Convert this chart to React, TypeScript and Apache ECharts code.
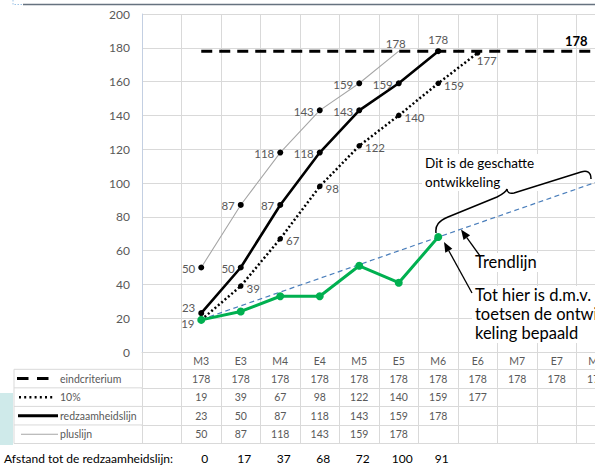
import React, { useEffect, useRef } from "react";
import * as echarts from "echarts";

// ---------- data ----------
const categories = ["", "M3", "E3", "M4", "E4", "M5", "E5", "M6", "E6", "M7", "E7", "M8"];
const eindcriterium = [null, 178, 178, 178, 178, 178, 178, 178, 178, 178, 178, 178];
const tienProcent = [null, 19, 39, 67, 98, 122, 140, 159, 177, null, null, null];
const redzaamheidslijn = [null, 23, 50, 87, 118, 143, 159, 178, null, null, null, null];
const pluslijn = [null, 50, 87, 118, 143, 159, 178, null, null, null, null, null];
const gemeten = [null, 19, 24, 33, 33, 51, 41, 68, null, null, null, null];
const trendlijn = [null, 19.2, null, null, null, null, null, null, null, null, null, 100.5];
const afstand = [null, 0, 17, 37, 68, 72, 100, 91, null, null, null, null];
const yMin = 0;
const yMax = 200;
const yStep = 20;

const rowNames = ["eindcriterium", "10%", "redzaamheidslijn", "pluslijn"];
const rowValues = [eindcriterium, tienProcent, redzaamheidslijn, pluslijn];

// ---------- layout ----------
const FONT = "Lato, 'Open Sans', sans-serif";
const GRAY = "#595959";
const GRID = "#d9d9d9";
const GRID_LEFT = 142;
const GRID_TOP = 14;
const CAT_W = 39.5;
const GRID_H = 338;
const CHART_W = 640;
const CHART_H = 469;
const HEADER_H = 17.3;
const ROW_H = 18.55;
const ZA = 100;

const fmt = (v: number | null) => (v == null ? "" : String(v));

function arrow(x1: number, y1: number, x2: number, y2: number) {
  const dx = x2 - x1;
  const dy = y2 - y1;
  const len = Math.sqrt(dx * dx + dy * dy);
  const ux = dx / len;
  const uy = dy / len;
  const hl = 10;
  const hw = 4;
  const bx = x2 - ux * hl;
  const by = y2 - uy * hl;
  const px = -uy * hw;
  const py = ux * hw;
  return [
    {
      type: "line",
      silent: true,
      z: ZA + 2,
      shape: { x1, y1, x2: bx, y2: by },
      style: { stroke: "#000", lineWidth: 1.3 },
    },
    {
      type: "polygon",
      silent: true,
      z: ZA + 2,
      shape: {
        points: [
          [x2, y2],
          [bx + px, by + py],
          [bx - px, by - py],
        ],
      },
      style: { fill: "#000" },
    },
  ];
}

function whiteBox(x: number, y: number, w: number, h: number) {
  return {
    type: "rect",
    silent: true,
    z: ZA,
    shape: { x, y, width: w, height: h },
    style: { fill: "#fff" },
  };
}

const BRACE_D =
  "M436,233 C435,225 439,221 448,217 L497,197 C503,194 506,192 507,189 C507,192 509,194 514,193 L581,172 C587,170 591,172 591,179";

let braceRegistered = false;

export default function App() {
  const ref = useRef<HTMLDivElement>(null);

  useEffect(() => {
    if (!ref.current) return;
    if (!braceRegistered) {
      echarts.graphic.registerShape("brace", echarts.graphic.extendPath(BRACE_D, {}));
      braceRegistered = true;
    }
    const chart = echarts.init(ref.current, undefined, { renderer: "svg" });

    const rowOffsets = rowValues.map((_, i) => HEADER_H + i * ROW_H);
    const bottomOffset = HEADER_H + rowValues.length * ROW_H;

    const tableAxes = rowValues.map((vals, i) => ({
      type: "category",
      gridIndex: 0,
      position: "bottom",
      offset: rowOffsets[i],
      data: categories,
      boundaryGap: true,
      axisLine: { show: true, lineStyle: { color: GRID, width: 1 } },
      axisTick: { show: true, interval: 0, length: ROW_H, lineStyle: { color: GRID } },
      axisLabel: {
        show: true,
        interval: 0,
        margin: ROW_H / 2,
        verticalAlign: "middle",
        color: GRAY,
        fontSize: 10.5,
        fontFamily: FONT,
        formatter: (_v: string, idx: number) => fmt(vals[idx] as number | null),
      },
      splitLine: { show: false },
    }));

    const labelBase = {
      show: true,
      color: GRAY,
      fontSize: 11.5,
      fontFamily: FONT,
      distance: 3,
    };

    const legendLines: any[] = [];
    const legendYs = [0, 1, 2, 3, 4].map((i) => 352 + HEADER_H + i * ROW_H);
    legendYs.forEach((y) =>
      legendLines.push({
        type: "line",
        silent: true,
        shape: { x1: 14, y1: y, x2: GRID_LEFT, y2: y },
        style: { stroke: GRID, lineWidth: 1 },
      })
    );
    legendLines.push({
      type: "line",
      silent: true,
      shape: { x1: 14, y1: legendYs[0], x2: 14, y2: legendYs[4] },
      style: { stroke: GRID, lineWidth: 1 },
    });
    const rowMid = (i: number) => legendYs[i] + ROW_H / 2;
    const keys: any[] = [
      {
        type: "line",
        silent: true,
        shape: { x1: 17, y1: rowMid(0), x2: 49, y2: rowMid(0) },
        style: { stroke: "#000", lineWidth: 3, lineDash: [11.5, 8.5] },
      },
      {
        type: "line",
        silent: true,
        shape: { x1: 19, y1: rowMid(1), x2: 55, y2: rowMid(1) },
        style: { stroke: "#000", lineWidth: 2.5, lineDash: [2, 3.2] },
      },
      {
        type: "line",
        silent: true,
        shape: { x1: 18, y1: rowMid(2), x2: 58, y2: rowMid(2) },
        style: { stroke: "#000", lineWidth: 3 },
      },
      {
        type: "line",
        silent: true,
        shape: { x1: 21, y1: rowMid(3), x2: 58, y2: rowMid(3) },
        style: { stroke: "#a6a6a6", lineWidth: 1.2 },
      },
    ];
    const keyTexts = rowNames.map((name, i) => ({
      type: "text",
      silent: true,
      x: 60,
      y: rowMid(i),
      style: {
        text: name,
        fill: GRAY,
        font: `10.5px ${FONT}`,
        verticalAlign: "middle",
        align: "left",
      },
    }));

    const option: any = {
      animation: false,
      textStyle: { fontFamily: FONT },
      grid: {
        left: GRID_LEFT,
        top: GRID_TOP,
        width: CAT_W * categories.length,
        height: GRID_H,
        containLabel: false,
      },
      xAxis: [
        {
          type: "category",
          gridIndex: 0,
          position: "bottom",
          data: categories,
          boundaryGap: true,
          axisLine: { show: true, lineStyle: { color: GRID } },
          axisTick: { show: true, interval: 0, length: HEADER_H, lineStyle: { color: GRID } },
          axisLabel: {
            show: true,
            interval: 0,
            margin: 8.7,
            verticalAlign: "middle",
            color: GRAY,
            fontSize: 10.5,
            fontFamily: FONT,
          },
          splitLine: { show: true, interval: 0, lineStyle: { color: GRID } },
        },
        ...tableAxes,
        {
          type: "category",
          gridIndex: 0,
          position: "bottom",
          offset: bottomOffset,
          data: categories,
          axisLine: { show: true, lineStyle: { color: GRID } },
          axisTick: { show: false },
          axisLabel: { show: false },
          splitLine: { show: false },
        },
        {
          type: "category",
          gridIndex: 0,
          position: "bottom",
          offset: 100,
          data: categories,
          axisLine: { show: false },
          axisTick: { show: false },
          axisLabel: {
            show: true,
            interval: 0,
            margin: 6,
            verticalAlign: "middle",
            color: "#000",
            fontSize: 12,
            fontFamily: FONT,
            padding: [0, 0, 0, 7],
            formatter: (_v: string, idx: number) => fmt(afstand[idx] as number | null),
          },
          splitLine: { show: false },
        },
      ],
      yAxis: {
        type: "value",
        min: yMin,
        max: yMax,
        interval: yStep,
        axisLine: { show: true, lineStyle: { color: "#c3cfe2" } },
        axisTick: { show: false },
        axisLabel: { color: GRAY, fontSize: 12, fontFamily: FONT, margin: 12 },
        splitLine: { show: true, lineStyle: { color: GRID } },
      },
      series: [
        {
          name: "trendlijn",
          type: "line",
          data: trendlijn,
          connectNulls: true,
          symbol: "none",
          lineStyle: { color: "#4a7ebb", width: 1.2, type: [5, 3.5] },
          z: 2,
        },
        {
          name: "pluslijn",
          type: "line",
          data: pluslijn.map((v, i) =>
            v == null
              ? null
              : i === 6
              ? { value: v, symbolSize: 0, label: { position: "top", offset: [-3, 1] } }
              : { value: v }
          ),
          symbol: "circle",
          symbolSize: 6,
          itemStyle: { color: "#000" },
          lineStyle: { color: "#a6a6a6", width: 1.1 },
          label: { ...labelBase, position: "left", offset: [0, 1] },
          z: 3,
        },
        {
          name: "10%",
          type: "line",
          data: tienProcent.map((v, i) =>
            v == null
              ? null
              : i === 1
              ? { value: v, label: { position: "left", offset: [-1, 4] } }
              : i === 8
              ? { value: v, label: { position: "bottom", offset: [9, -4] } }
              : { value: v }
          ),
          symbol: "circle",
          symbolSize: 5.5,
          itemStyle: { color: "#000" },
          lineStyle: { color: "#000", width: 2.5, type: [2, 2.4] },
          label: { ...labelBase, position: "right", offset: [0, 2] },
          z: 4,
        },
        {
          name: "redzaamheidslijn",
          type: "line",
          data: redzaamheidslijn.map((v, i) =>
            v == null
              ? null
              : i === 1
              ? { value: v, label: { position: "left", offset: [0, -6] } }
              : i === 7
              ? { value: v, label: { position: "top", offset: [0, 0] } }
              : { value: v }
          ),
          symbol: "circle",
          symbolSize: 6,
          itemStyle: { color: "#000" },
          lineStyle: { color: "#000", width: 2.6 },
          label: { ...labelBase, position: "left", offset: [0, 1] },
          z: 5,
        },
        {
          name: "eindcriterium",
          type: "line",
          data: eindcriterium.map((v, i) =>
            v == null
              ? null
              : i === categories.length - 1
              ? {
                  value: v,
                  label: {
                    show: true,
                    position: "top",
                    offset: [-20, 1],
                    color: "#000",
                    fontWeight: "bold",
                    fontSize: 13,
                    fontFamily: FONT,
                  },
                }
              : { value: v }
          ),
          symbol: "circle",
          symbolSize: 0,
          lineStyle: { color: "#000", width: 3, type: [11, 7] },
          label: { show: false },
          z: 4,
        },
        {
          name: "gemeten",
          type: "line",
          data: gemeten,
          symbol: "circle",
          symbolSize: 8,
          itemStyle: { color: "#00b050" },
          lineStyle: { color: "#00b050", width: 3 },
          z: 6,
        },
      ],
      graphic: [
        {
          type: "rect",
          silent: true,
          shape: { x: 0, y: 393, width: 13, height: 52 },
          style: { fill: "#cfeaea" },
        },
        {
          type: "line",
          silent: true,
          shape: { x1: 23, y1: 4.5, x2: 595, y2: 4.5 },
          style: { stroke: "#66727f", lineWidth: 1.5 },
        },
        {
          type: "polyline",
          silent: true,
          shape: { points: [[13, 0], [13, 4.5], [23, 4.5]] },
          style: { stroke: "#9dc3e6", lineWidth: 1, lineDash: [1.5, 1.5], fill: null },
        },
        ...legendLines,
        ...keys,
        ...keyTexts,
        {
          type: "text",
          silent: true,
          x: 4,
          y: 458,
          style: {
            text: "Afstand tot de redzaamheidslijn:",
            fill: "#000",
            font: `12px ${FONT}`,
            verticalAlign: "middle",
            align: "left",
          },
        },
        whiteBox(422, 154, 122, 37),
        {
          type: "text",
          silent: true,
          z: ZA + 1,
          x: 425,
          y: 154,
          style: {
            text: "Dit is de geschatte\nontwikkeling",
            fill: "#000",
            font: `13.5px ${FONT}`,
            lineHeight: 18.7,
            verticalAlign: "top",
            align: "left",
          },
        },
        {
          type: "brace",
          silent: true,
          z: ZA + 2,
          x: 0,
          y: 0,
          shape: {},
          style: { fill: "none", stroke: "#000", lineWidth: 1.5 },
        },
        whiteBox(472, 253, 72, 19),
        {
          type: "text",
          silent: true,
          z: ZA + 1,
          x: 475,
          y: 262,
          style: {
            text: "Trendlijn",
            fill: "#000",
            font: `16.5px ${FONT}`,
            verticalAlign: "middle",
            align: "left",
          },
        },
        whiteBox(472, 286, 130, 57),
        {
          type: "text",
          silent: true,
          z: ZA + 1,
          x: 475,
          y: 285.5,
          style: {
            text: "Tot hier is d.m.v.\ntoetsen de ontwik-\nkeling bepaald",
            fill: "#000",
            font: `16.5px ${FONT}`,
            lineHeight: 19,
            verticalAlign: "top",
            align: "left",
          },
        },
        ...arrow(472, 293, 444, 242),
        ...arrow(480, 256, 461, 229.5),
      ],
    };

    chart.setOption(option);
    return () => chart.dispose();
  }, []);

  return (
    <div
      style={{
        position: "fixed",
        left: 0,
        top: 0,
        width: 595,
        height: 469,
        overflow: "hidden",
        background: "#fff",
      }}
    >
      <div ref={ref} style={{ width: CHART_W, height: CHART_H }} />
    </div>
  );
}
